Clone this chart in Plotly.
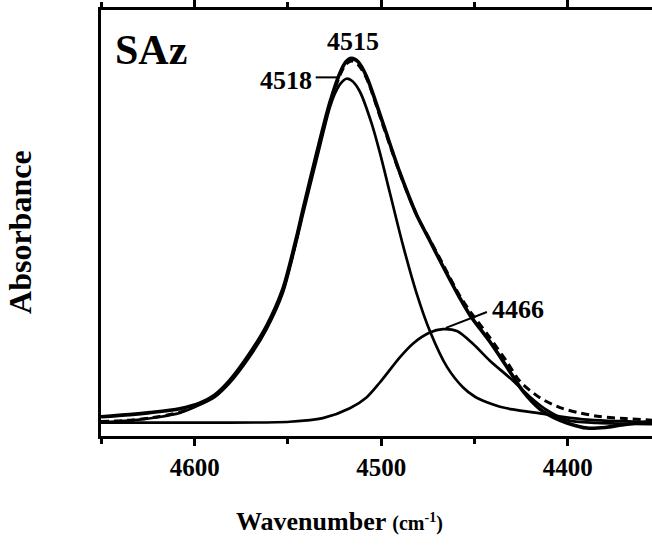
import plotly.graph_objects as go

# Measured spectrum (solid, thick)
total_wn = [4650.2, 4634.9, 4624.1, 4608.0, 4597.3, 4589.3, 4581.2, 4570.5, 4561.4, 4552.8,
            4545.3, 4542.0, 4534.5, 4527.6, 4522.2, 4519.0, 4515.9, 4512.5, 4507.9, 4499.1,
            4490.0, 4481.0, 4473.9, 4468.5, 4457.8, 4452.4, 4441.7, 4432.7, 4424.0, 4414.9,
            4406.8, 4400.4, 4389.6, 4380.0, 4369.2, 4354.8]
total_abs = [0.0495, 0.055, 0.060, 0.070, 0.084, 0.104, 0.141, 0.209, 0.279, 0.371,
             0.504, 0.571, 0.716, 0.841, 0.916, 0.945, 0.954, 0.946, 0.909, 0.791,
             0.666, 0.559, 0.494, 0.444, 0.349, 0.306, 0.239, 0.176, 0.114, 0.069,
             0.046, 0.034, 0.021, 0.0225, 0.030, 0.0375]

# Sum of fitted components (dashed)
fit_wn = [4650.2, 4634.9, 4618.8, 4608.0, 4600.0, 4589.3, 4581.2, 4570.5, 4561.4, 4552.8,
          4545.3, 4542.0, 4534.5, 4527.6, 4522.2, 4519.0, 4515.9, 4512.5, 4507.9, 4499.1,
          4490.0, 4481.0, 4473.9, 4468.5, 4457.8, 4452.4, 4441.7, 4432.7, 4425.6, 4414.9,
          4404.1, 4393.4, 4382.7, 4369.2, 4354.8]
fit_abs = [0.0375, 0.041, 0.050, 0.061, 0.076, 0.101, 0.139, 0.205, 0.275, 0.3675,
           0.499, 0.5675, 0.711, 0.836, 0.910, 0.939, 0.9475, 0.939, 0.904, 0.786,
           0.664, 0.559, 0.496, 0.449, 0.354, 0.316, 0.249, 0.189, 0.139, 0.0975,
           0.0725, 0.059, 0.050, 0.045, 0.041]

# Component band at 4518
c1_wn = [4650.2, 4634.9, 4618.8, 4608.0, 4600.0, 4589.3, 4581.2, 4570.5, 4561.4, 4552.8,
         4545.3, 4542.0, 4534.5, 4527.6, 4524.9, 4521.7, 4518.6, 4515.7, 4511.5, 4505.2,
         4500.7, 4495.4, 4488.4, 4481.0, 4473.9, 4464.8, 4456.2, 4449.7, 4443.3, 4436.3,
         4429.4, 4414.9, 4391.8, 4354.8]
c1_abs = [0.036, 0.040, 0.049, 0.059, 0.074, 0.099, 0.135, 0.201, 0.271, 0.361,
          0.494, 0.559, 0.701, 0.829, 0.864, 0.891, 0.9025, 0.8975, 0.871, 0.791,
          0.716, 0.616, 0.484, 0.361, 0.266, 0.176, 0.124, 0.100, 0.086, 0.075,
          0.068, 0.058, 0.043, 0.036]

# Component band at 4466
c2_wn = [4650.2, 4597.3, 4549.0, 4531.3, 4516.8, 4507.7, 4500.7, 4490.0, 4483.0, 4473.9,
         4466.9, 4459.4, 4450.8, 4441.7, 4429.4, 4420.2, 4411.1, 4400.4, 4384.3, 4354.8]
c2_abs = [0.0345, 0.0345, 0.037, 0.046, 0.071, 0.099, 0.136, 0.1995, 0.234, 0.262,
          0.2705, 0.266, 0.234, 0.191, 0.141, 0.0995, 0.066, 0.041, 0.034, 0.031]

x_ticks = [4600, 4500, 4400]
x_tick_labels = ["4600", "4500", "4400"]
x_minor = [4650, 4550, 4450]
x_range = [4650.2, 4354.8]
y_range = [0.001, 1.076]

SERIF = "Liberation Serif, Times New Roman, serif"

fig = go.Figure()
line_common = dict(shape="spline", smoothing=0.8)
fig.add_trace(go.Scatter(x=c2_wn, y=c2_abs, mode="lines",
                         line=dict(color="black", width=2.7, **line_common)))
fig.add_trace(go.Scatter(x=c1_wn, y=c1_abs, mode="lines",
                         line=dict(color="black", width=2.7, **line_common)))
fig.add_trace(go.Scatter(x=total_wn, y=total_abs, mode="lines",
                         line=dict(color="black", width=3.6, **line_common)))
fig.add_trace(go.Scatter(x=fit_wn, y=fit_abs, mode="lines",
                         line=dict(color="black", width=3, dash="8px,5px", **line_common)))

# leader lines
fig.add_shape(type="line", x0=4535.1, x1=4522.2, y0=0.906, y1=0.906,
              line=dict(color="black", width=2))
fig.add_shape(type="line", x0=4443.3, x1=4465.3, y0=0.314, y1=0.274,
              line=dict(color="black", width=2))

ann_font = dict(family=SERIF, size=26, color="black", weight=700)
fig.add_annotation(x=4644.0, y=0.976, text="SAz", showarrow=False, xanchor="left",
                   yanchor="middle", font=dict(family=SERIF, size=42, color="black", weight=700))
fig.add_annotation(x=4514.9, y=0.9975, text="4515", showarrow=False, font=ann_font)
fig.add_annotation(x=4551.2, y=0.8975, text="4518", showarrow=False, font=ann_font)
fig.add_annotation(x=4426.7, y=0.319, text="4466", showarrow=False, font=ann_font)

# axis titles
fig.add_annotation(xref="paper", yref="paper", x=-0.147, y=0.479, text="Absorbance",
                   textangle=-90, showarrow=False, xanchor="center", yanchor="middle",
                   font=dict(family=SERIF, size=32, color="black", weight=700))
fig.add_annotation(xref="paper", yref="paper", x=0.432, y=-0.20,
                   xanchor="center", yanchor="middle",
                   text="Wavenumber <span style='font-size:20px'>(cm<sup>-1</sup>)</span>",
                   showarrow=False,
                   font=dict(family=SERIF, size=26, color="black", weight=700))

fig.update_layout(
    width=652, height=546,
    margin=dict(l=101, r=0, t=6, b=110),
    paper_bgcolor="white", plot_bgcolor="white",
    showlegend=False,
    xaxis=dict(range=x_range, tickmode="array", tickvals=x_ticks, ticktext=x_tick_labels,
               ticks="outside", ticklen=7, tickwidth=2.5, tickcolor="black",
               showline=True, linecolor="black", linewidth=2.5, mirror="ticks",
               showgrid=False, zeroline=False, ticklabelstandoff=0,
               tickfont=dict(family=SERIF, size=25, color="black", weight=700),
               minor=dict(tickmode="array", tickvals=x_minor, ticks="outside", ticklen=5,
                          tickwidth=2.5, tickcolor="black", showgrid=False)),
    yaxis=dict(range=y_range, showticklabels=False, ticks="", showline=True,
               linecolor="black", linewidth=2.5, mirror=False, showgrid=False,
               zeroline=False),
)

fig.write_html("out.html")
